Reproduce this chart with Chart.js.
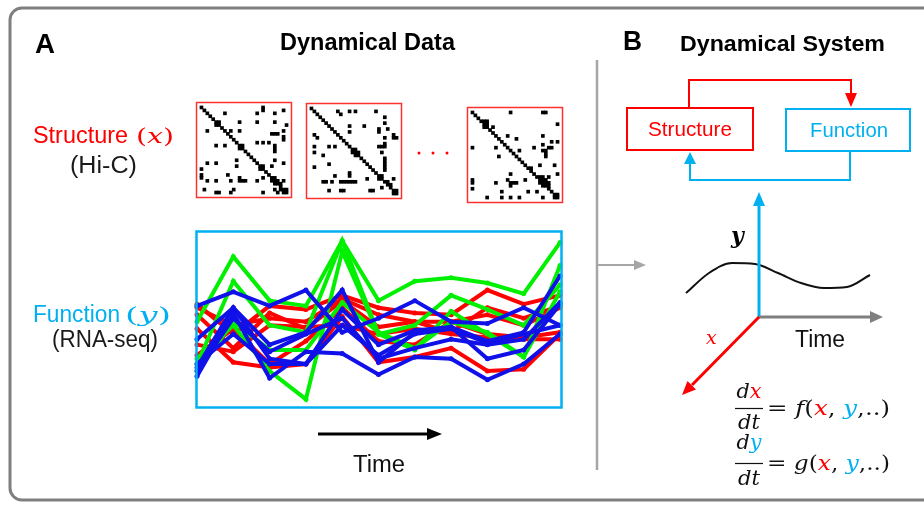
<!DOCTYPE html>
<html>
<head>
<meta charset="utf-8">
<script src="https://cdn.jsdelivr.net/npm/chart.js@4.4.1/dist/chart.umd.min.js"></script>
<style>
  body { margin: 0; width: 924px; height: 506px; overflow: hidden; position: relative; background: #fff;
         font-family: "Liberation Sans", Arial, sans-serif; }
  canvas.c { position: absolute; }
  svg { position: absolute; left: 0; top: 0; }
  .math { font-family: "DejaVu Serif", "Liberation Serif", serif; }
  .it { font-style: italic; }
</style>
</head>
<body>
<canvas id="hic1" class="c" width="96" height="96" style="left:196px;top:102px"></canvas>
<canvas id="hic2" class="c" width="96" height="96" style="left:306px;top:103px"></canvas>
<canvas id="hic3" class="c" width="96" height="96" style="left:467px;top:107px"></canvas>
<canvas id="rna" class="c" width="385" height="196" style="left:186px;top:222px"></canvas>
<canvas id="wave" class="c" width="196" height="50" style="left:680px;top:250px"></canvas>

<svg width="924" height="506" viewBox="0 0 924 506">
  <!-- outer frame -->
  <rect x="10" y="8" width="940" height="492" rx="12" fill="none" stroke="#7f7f7f" stroke-width="3"/>

  <!-- panel A -->
  <text x="35" y="53" font-size="28" font-weight="bold" textLength="20" lengthAdjust="spacingAndGlyphs">A</text>
  <text x="280" y="50" font-size="23" font-weight="bold" textLength="175" lengthAdjust="spacingAndGlyphs">Dynamical Data</text>

  <text x="33" y="143" font-size="23" fill="#ff0000" textLength="95" lengthAdjust="spacingAndGlyphs">Structure</text>
  <text x="136" y="143" font-size="20" fill="#ff0000" class="math" textLength="38" lengthAdjust="spacingAndGlyphs">(<tspan class="it">x</tspan>)</text>
  <text x="70" y="173" font-size="23" fill="#1a1a1a" textLength="67" lengthAdjust="spacingAndGlyphs">(Hi-C)</text>

  <text x="33" y="322" font-size="23" fill="#00b0f0" textLength="87" lengthAdjust="spacingAndGlyphs">Function</text>
  <text x="125" y="322" font-size="20" fill="#00b0f0" class="math" textLength="46" lengthAdjust="spacingAndGlyphs">(<tspan class="it">y</tspan>)</text>
  <text x="52" y="347" font-size="23" fill="#1a1a1a" textLength="106" lengthAdjust="spacingAndGlyphs">(RNA-seq)</text>

  <!-- Hi-C frames -->
  <rect x="196.5" y="102.5" width="95" height="95" fill="none" stroke="#ff3030" stroke-width="1.5"/>
  <rect x="306.5" y="103.5" width="95" height="95" fill="none" stroke="#ff3030" stroke-width="1.5"/>
  <rect x="467.5" y="107.5" width="95" height="95" fill="none" stroke="#ff3030" stroke-width="1.5"/>
  <circle cx="419" cy="153" r="1.5" fill="#ff0000"/>
  <circle cx="433" cy="153" r="1.5" fill="#ff0000"/>
  <circle cx="447" cy="153" r="1.5" fill="#ff0000"/>

  <!-- RNA-seq frame -->
  <rect x="196.5" y="231.5" width="365" height="176" fill="none" stroke="#00b0f0" stroke-width="2.5"/>

  <!-- time arrow -->
  <line x1="318" y1="434" x2="430" y2="434" stroke="#000" stroke-width="3"/>
  <polygon points="427,428 442,434 427,440" fill="#000"/>
  <text x="353" y="472" font-size="23" fill="#111" textLength="52" lengthAdjust="spacingAndGlyphs">Time</text>

  <!-- divider and link -->
  <line x1="597" y1="60" x2="597" y2="470" stroke="#a6a6a6" stroke-width="2.5"/>
  <line x1="598" y1="265" x2="636" y2="265" stroke="#a6a6a6" stroke-width="2"/>
  <polygon points="634,260 646,265 634,270" fill="#a6a6a6"/>

  <!-- panel B -->
  <text x="623" y="50" font-size="27" font-weight="bold" textLength="19" lengthAdjust="spacingAndGlyphs">B</text>
  <text x="680" y="51" font-size="22" font-weight="bold" textLength="205" lengthAdjust="spacingAndGlyphs">Dynamical System</text>

  <polyline points="689,108 689,80 851,80 851,94" fill="none" stroke="#ff0000" stroke-width="2"/>
  <polygon points="845,93 857,93 851,107" fill="#ff0000"/>
  <polyline points="850,151 850,180 690,180 690,164" fill="none" stroke="#00b0f0" stroke-width="2"/>
  <polygon points="684,164 696,164 690,152" fill="#00b0f0"/>

  <rect x="627" y="108" width="126" height="42" fill="none" stroke="#ff0000" stroke-width="2"/>
  <rect x="786" y="109" width="124" height="42" fill="none" stroke="#00b0f0" stroke-width="2"/>
  <text x="648" y="136" font-size="21" fill="#ff0000" textLength="84" lengthAdjust="spacingAndGlyphs">Structure</text>
  <text x="810" y="137" font-size="21" fill="#00b0f0" textLength="78" lengthAdjust="spacingAndGlyphs">Function</text>

  <!-- 3D axes -->
  <line x1="759" y1="317" x2="759" y2="205" stroke="#00b0f0" stroke-width="3"/>
  <polygon points="753,206 765,206 759,192" fill="#00b0f0"/>
  <line x1="759" y1="317" x2="871" y2="317" stroke="#7f7f7f" stroke-width="3"/>
  <polygon points="870,311 883,317 870,323" fill="#7f7f7f"/>
  <line x1="759" y1="317" x2="692" y2="385" stroke="#ff0000" stroke-width="3"/>
  <polygon points="696,389.5 687.5,381 682,395" fill="#ff0000"/>
  <text x="731" y="243" font-size="22" font-weight="bold" class="math it" fill="#000">y</text>
  <text x="795" y="347" font-size="23" fill="#111" textLength="50" lengthAdjust="spacingAndGlyphs">Time</text>
  <text x="706" y="344" font-size="19" class="math it" fill="#ff0000">x</text>

  <!-- equations -->
  <g class="math" font-size="21" fill="#111">
    <text x="749" y="398" text-anchor="middle" class="it" textLength="25" lengthAdjust="spacingAndGlyphs">d<tspan fill="#ff0000">x</tspan></text>
    <line x1="735" y1="408.5" x2="763" y2="408.5" stroke="#111" stroke-width="1.2"/>
    <text x="749" y="429" text-anchor="middle" class="it" textLength="22" lengthAdjust="spacingAndGlyphs">dt</text>
    <text x="767" y="415" textLength="123" lengthAdjust="spacingAndGlyphs">= <tspan class="it">f</tspan>(<tspan class="it" fill="#ff0000">x</tspan>, <tspan class="it" fill="#00b0f0">y</tspan>,..)</text>

    <text x="749" y="449" text-anchor="middle" class="it" textLength="25" lengthAdjust="spacingAndGlyphs">d<tspan fill="#00b0f0">y</tspan></text>
    <line x1="735" y1="463.5" x2="763" y2="463.5" stroke="#111" stroke-width="1.2"/>
    <text x="749" y="485" text-anchor="middle" class="it" textLength="22" lengthAdjust="spacingAndGlyphs">dt</text>
    <text x="767" y="470" textLength="123" lengthAdjust="spacingAndGlyphs">= <tspan class="it">g</tspan>(<tspan class="it" fill="#ff0000">x</tspan>, <tspan class="it" fill="#00b0f0">y</tspan>,..)</text>
  </g>
</svg>

<script>
/* RNA-seq expression over 11 time points (arbitrary units, 0-100) */
const timePoints = ["t1", "t2", "t3", "t4", "t5", "t6", "t7", "t8", "t9", "t10", "t11"];

const redSeries = [
  [59, 42, 58, 56, 64, 57, 54, 53, 67, 59, 64],
  [53, 34, 54, 45, 61, 46, 49, 49, 53, 47, 57],
  [45, 26, 23, 25, 52, 26, 29, 34, 21, 22, 42],
  [36, 32, 47, 46, 47, 42, 45, 42, 40, 39, 39],
  [30, 45, 25, 38, 57, 38, 36, 49, 42, 40, 43],
  [57, 47, 51, 49, 62, 53, 49, 43, 57, 51, 58]
];
const greenSeries = [
  [49, 86, 61, 58, 95, 61, 72, 74, 71, 65, 94],
  [25, 72, 47, 43, 95, 42, 47, 64, 56, 47, 70],
  [28, 47, 21, 5, 89, 42, 33, 55, 42, 29, 81],
  [21, 49, 33, 33, 60, 43, 34, 49, 43, 29, 66]
];
const blueSeries = [
  [58, 66, 58, 67, 43, 51, 61, 49, 48, 57, 47],
  [39, 57, 36, 43, 67, 26, 43, 46, 38, 43, 75],
  [18, 54, 17, 32, 31, 19, 29, 28, 16, 25, 42],
  [25, 42, 25, 25, 56, 36, 44, 46, 28, 33, 59],
  [21, 51, 32, 42, 51, 28, 34, 39, 36, 39, 60],
  [23, 57, 28, 25, 47, 30, 42, 45, 37, 42, 47]
];

/* Hi-C contact maps, 30 x 30 bins: [column, row] of filled cells */
const diagonalBins = [
  [0,0],[1,1],[2,2],[3,3],[4,4],[5,5],[6,6],[7,7],[8,8],[9,9],
  [10,10],[11,11],[12,12],[13,13],[14,14],[15,15],[16,16],[17,17],[18,18],[19,19],
  [20,20],[21,21],[22,22],[23,23],[24,24],[25,25],[26,26],[27,27],[28,28],[29,29]
];
const hicCells1 = [
  [8,2],[13,5],[19,2],[21,0],[21,1],[25,2],[28,1],[19,5],[25,5],[29,6],[28,8],
  [2,8],[5,6],[6,5],[10,8],[13,8],[24,9],[25,9],[26,9],[28,10],[28,11],
  [5,13],[8,13],[19,12],[21,12],[23,12],[25,13],[25,14],[25,15],
  [14,13],[13,14],[12,18],[2,19],[5,19],[21,20],[20,21],[0,21],[12,20],
  [24,20],[25,18],[28,19],[0,23],[0,24],[2,25],[5,25],[9,23],[10,25],
  [13,25],[14,25],[15,25],[13,24],[19,25],[21,24],
  [25,24],[24,25],[26,25],[27,26],[25,26],[28,25],
  [1,28],[5,29],[6,29],[10,29],[11,28],[21,29],[25,28],[26,29],[28,29],[29,28],[27,28]
];
const hicCells2 = [
  [9,1],[10,2],[13,1],[15,1],[22,1],[13,6],[13,8],[18,6],[25,3],[25,5],
  [23,7],[23,8],[26,7],[28,9],[29,10],[28,10],[1,9],[2,10],
  [1,13],[6,13],[8,13],[1,15],[4,16],
  [15,14],[14,15],[16,15],[15,16],[23,13],[24,13],[25,13],[25,10],[25,12],
  [24,15],[25,17],[25,18],[25,19],[25,20],[25,21],[6,19],[1,20],
  [13,22],[13,23],[8,23],[7,25],[10,25],[11,25],[12,25],[13,25],[14,25],[15,25],
  [4,25],[5,25],[19,24],[24,23],[23,24],[26,25],[27,26],[28,24],
  [6,28],[10,28],[11,28],[20,28],[21,28],[24,27],[29,28],[28,29]
];
const hicCells3 = [
  [13,0],[24,0],[25,0],[5,3],[4,3],[5,4],[4,5],[7,5],[29,4],
  [12,8],[15,9],[24,8],[27,10],[29,10],[0,12],[8,12],[9,15],[16,13],
  [21,12],[24,11],[24,13],[25,13],[25,14],[25,15],[26,12],[27,12],
  [20,19],[23,18],[28,18],[13,21],[18,23],[0,23],[0,24],[0,26],[8,24],
  [12,23],[13,24],[14,24],[15,24],[13,25],[10,27],[19,27],[22,27],
  [23,22],[24,22],[24,23],[25,23],[23,24],[25,24],[26,24],[24,25],[26,25],[26,22],[29,21],
  [5,29],[10,29],[13,29],[16,29],[24,29],[28,29],[29,28]
];

/* schematic trajectory y(t) in the system sketch */
const waveTime  = [0, 1, 2, 3, 4, 5, 6, 7, 8];
const waveLevel = [7, 27, 37, 36, 27, 17, 12, 13, 25];

const RED   = "#ff0000";
const GREEN = "#00f000";
const BLUE  = "#1010e8";

Chart.defaults.devicePixelRatio = 1;

function lineSet(values, color, order) {
  return {
    data: values,
    borderColor: color,
    backgroundColor: color,
    borderWidth: 4,
    pointRadius: 2.5,
    pointBorderWidth: 0,
    pointBackgroundColor: color,
    tension: 0,
    fill: false,
    order: order
  };
}

const rnaSets = []
  .concat(redSeries.map(v => lineSet(v, RED, 2)))
  .concat(greenSeries.map(v => lineSet(v, GREEN, 1)))
  .concat(blueSeries.map(v => lineSet(v, BLUE, 0)));

new Chart(document.getElementById("rna"), {
  type: "line",
  data: { labels: timePoints, datasets: rnaSets },
  options: {
    responsive: false,
    animation: false,
    layout: { padding: { left: 11, right: 11, top: 10, bottom: 10 } },
    plugins: { legend: { display: false }, tooltip: { enabled: false } },
    scales: {
      x: { display: false, offset: false },
      y: { display: false, min: 0, max: 100 }
    }
  }
});

function drawHic(id, cells) {
  const pts = diagonalBins.concat(cells).map(([c, r]) => ({ x: c, y: r }));
  new Chart(document.getElementById(id), {
    type: "scatter",
    data: {
      datasets: [{
        data: pts,
        pointStyle: "rect",
        pointRadius: 2.6,
        pointBorderWidth: 0,
        backgroundColor: "#000",
        clip: false
      }]
    },
    options: {
      responsive: false,
      animation: false,
      layout: { padding: 0 },
      plugins: { legend: { display: false }, tooltip: { enabled: false } },
      scales: {
        x: { type: "linear", display: false, min: -0.5, max: 29.5 },
        y: { type: "linear", display: false, min: -0.5, max: 29.5, reverse: true }
      }
    }
  });
}
drawHic("hic1", hicCells1);
drawHic("hic2", hicCells2);
drawHic("hic3", hicCells3);

new Chart(document.getElementById("wave"), {
  type: "line",
  data: {
    labels: waveTime,
    datasets: [{
      data: waveLevel,
      borderColor: "#111",
      borderWidth: 2,
      pointRadius: 0,
      cubicInterpolationMode: "monotone",
      fill: false,
      clip: false
    }]
  },
  options: {
    responsive: false,
    animation: false,
    layout: { padding: { left: 6, right: 6, top: 0, bottom: 0 } },
    plugins: { legend: { display: false }, tooltip: { enabled: false } },
    scales: {
      x: { display: false, offset: false },
      y: { display: false, min: 0, max: 50 }
    }
  }
});
</script>
</body>
</html>
